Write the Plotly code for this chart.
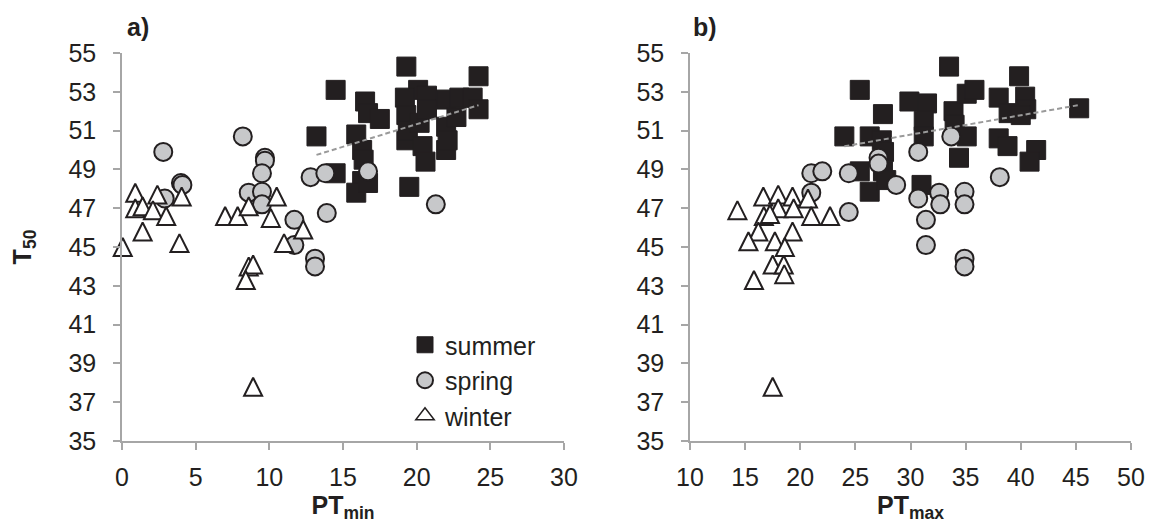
import numpy as np
import plotly.graph_objects as go

# ---- T50 versus minimum photoperiod temperature (panel a) ----
summer_ptmin = [13.2, 14.5, 14.5, 16.5, 16.7, 17.5, 15.9, 16.3, 16.4, 16.3, 15.9, 16.7,
                19.3, 20.1, 20.7, 19.2, 19.3, 19.3, 19.4, 20.2, 20.7, 20.4, 20.6, 22.0,
                22.0, 22.0, 22.9, 23.8, 24.2, 24.2, 22.7, 22.1, 19.5]
summer_t50_a = [50.7, 53.1, 48.8, 52.5, 51.9, 51.6, 50.8, 50.0, 49.5, 48.4, 47.8, 48.3,
                54.3, 53.1, 52.8, 52.7, 51.8, 50.5, 51.0, 51.4, 52.1, 50.2, 49.4, 50.0,
                51.2, 52.6, 52.7, 52.7, 53.8, 52.1, 51.7, 50.5, 48.1]

spring_ptmin = [2.8, 4.0, 4.1, 2.9, 8.2, 9.7, 9.7, 9.5, 8.6, 9.5, 9.5, 11.7, 11.7,
                13.1, 13.1, 12.8, 13.8, 13.9, 16.7, 21.3]
spring_t50_a = [49.9, 48.3, 48.2, 47.5, 50.7, 49.6, 49.45, 48.8, 47.8, 47.85, 47.2, 46.4, 45.1,
                44.4, 44.0, 48.6, 48.8, 46.75, 48.9, 47.2]

winter_ptmin = [0.05, 0.9, 0.9, 1.4, 1.4, 2.4, 2.1, 3.0, 4.05, 3.9, 7.0, 7.85, 8.6,
                10.5, 10.1, 12.3, 11.0, 8.6, 8.9, 8.4, 8.9]
winter_t50_a = [45.0, 47.8, 47.0, 47.1, 45.8, 47.7, 46.9, 46.6, 47.6, 45.2, 46.6, 46.6, 47.1,
                47.6, 46.5, 45.9, 45.2, 44.0, 44.1, 43.3, 37.8]

# ---- T50 versus maximum photoperiod temperature (panel b) ----
summer_ptmax = [25.4, 27.5, 24.0, 26.3, 27.4, 27.5, 25.4, 26.3, 27.8, 27.6, 29.9, 31.5,
                31.2, 31.2, 31.0, 33.5, 33.9, 35.1, 35.8, 34.0, 35.1, 34.4, 38.0, 39.85,
                40.4, 40.5, 38.9, 40.0, 38.0, 38.8, 41.4, 40.8, 45.3]
summer_t50_b = [53.1, 51.85, 50.7, 50.7, 50.5, 48.9, 48.9, 47.85, 48.45, 49.9, 52.5, 52.4,
                51.5, 50.7, 48.2, 54.3, 52.0, 52.9, 53.1, 51.3, 50.7, 49.6, 52.7, 53.8,
                52.75, 52.1, 51.9, 51.8, 50.6, 50.2, 50.0, 49.4, 52.15]

spring_ptmax = [21.0, 22.0, 21.0, 24.4, 24.4, 27.1, 27.1, 28.7, 30.7, 33.7, 30.7, 32.6,
                32.7, 34.9, 34.9, 38.1, 31.4, 31.4, 34.9, 34.9]
spring_t50_b = [48.8, 48.9, 47.8, 48.8, 46.8, 49.6, 49.3, 48.2, 49.9, 50.7, 47.5, 47.8,
                47.2, 47.85, 47.2, 48.6, 46.4, 45.1, 44.4, 44.0]

winter_ptmax = [14.3, 16.65, 18.0, 19.3, 20.7, 16.7, 18.0, 17.25, 19.4, 21.0, 22.7, 16.2,
                19.3, 15.3, 17.7, 18.6, 17.5, 18.5, 18.55, 15.8, 17.5]
winter_t50_b = [46.9, 47.6, 47.7, 47.6, 47.5, 46.6, 47.0, 46.7, 47.0, 46.6, 46.6, 45.8,
                45.8, 45.3, 45.3, 45.0, 44.1, 44.1, 43.6, 43.3, 37.8]

y_ticks = list(range(35, 56, 2))
xa_ticks = list(range(0, 31, 5))
xb_ticks = list(range(10, 51, 5))

INK = "#231f20"
AXIS = "#a6a6a6"
FONT = "Liberation Sans, Arial, sans-serif"

summer_marker = dict(symbol="square", size=19, color=INK, line=dict(color=INK, width=1))
spring_marker = dict(symbol="circle", size=18, color="#c7c8ca", line=dict(color=INK, width=2))
# upright triangle centred on the point (arrow shape turned over and pulled back by half its size)
winter_marker = dict(symbol="arrow-down", angle=180, standoff=9, size=18, color="white",
                     line=dict(color=INK, width=2))
# plain triangle used for the legend key
winter_key = dict(symbol="triangle-up", size=16, color="white", line=dict(color=INK, width=1.5))

fig = go.Figure()


def add_panel(series, xaxis, yaxis, legend):
    (sx, sy), (px, py), (wx, wy) = series
    fig.add_trace(go.Scatter(x=sx, y=sy, mode="markers", name="summer", marker=summer_marker,
                             xaxis=xaxis, yaxis=yaxis, showlegend=legend, cliponaxis=False,
                             legendrank=1))
    fig.add_trace(go.Scatter(x=px, y=py, mode="markers", name="spring", marker=spring_marker,
                             xaxis=xaxis, yaxis=yaxis, showlegend=legend, cliponaxis=False,
                             legendrank=2))
    fig.add_trace(go.Scatter(x=wx, y=wy, mode="markers", name="winter", marker=winter_marker,
                             xaxis=xaxis, yaxis=yaxis, showlegend=False, cliponaxis=False,
                             legendgroup="winter"))
    # linear trend of the summer series over its own range
    k, b = np.polyfit(sx, sy, 1)
    tx = np.array([min(sx), max(sx)])
    fig.add_trace(go.Scatter(x=tx, y=k * tx + b, mode="lines", showlegend=False,
                             line=dict(color="#9a9a9a", width=2, dash="5px,3px"),
                             xaxis=xaxis, yaxis=yaxis, hoverinfo="skip"))


add_panel([(summer_ptmin, summer_t50_a), (spring_ptmin, spring_t50_a),
           (winter_ptmin, winter_t50_a)], "x", "y", True)
add_panel([(summer_ptmax, summer_t50_b), (spring_ptmax, spring_t50_b),
           (winter_ptmax, winter_t50_b)], "x2", "y2", False)

# legend key for the winter series
fig.add_trace(go.Scatter(x=[None], y=[None], mode="markers", name="winter", marker=winter_key,
                         legendgroup="winter", legendrank=3, showlegend=True))

axis_common = dict(showline=True, linecolor=AXIS, linewidth=1.5, ticks="outside",
                   ticklen=7, tickcolor=AXIS, tickwidth=1.5, showgrid=False, zeroline=False,
                   automargin=False,
                   tickfont=dict(size=25, color=INK, family=FONT))

fig.update_layout(
    width=1160, height=524,
    margin=dict(l=0, r=0, t=53, b=83, autoexpand=False),
    paper_bgcolor="white", plot_bgcolor="white",
    font=dict(family=FONT, color=INK, size=25),
    xaxis=dict(domain=[122 / 1160, 564 / 1160], range=[0, 30], tickvals=xa_ticks,
               ticklabelstandoff=6,
               title=dict(text="<b>PT<sub>min</sub></b>", standoff=4,
                          font=dict(size=25, color=INK)), **axis_common),
    yaxis=dict(domain=[0, 1], range=[35, 55], tickvals=y_ticks, ticklabelstandoff=12,
               title=dict(text="<b>T<sub>50</sub></b>", standoff=30,
                          font=dict(size=25, color=INK)), **axis_common),
    xaxis2=dict(domain=[690 / 1160, 1131 / 1160], range=[10, 50], tickvals=xb_ticks,
                anchor="y2", ticklabelstandoff=6,
                title=dict(text="<b>PT<sub>max</sub></b>", standoff=4,
                           font=dict(size=25, color=INK)), **axis_common),
    yaxis2=dict(domain=[0, 1], range=[35, 55], tickvals=y_ticks, anchor="x2",
                ticklabelstandoff=12, **axis_common),
    legend=dict(x=405 / 1160, y=(441 - 322) / 388,
                xanchor="left", yanchor="top", bgcolor="rgba(0,0,0,0)",
                font=dict(size=25, color=INK, family=FONT), tracegroupgap=0),
    showlegend=True,
    annotations=[
        dict(text="<b>a)</b>", x=138 / 1160, y=(441 - 27) / 388, xref="paper", yref="paper",
             showarrow=False, font=dict(size=25, color=INK), xanchor="center", yanchor="middle"),
        dict(text="<b>b)</b>", x=705 / 1160, y=(441 - 27) / 388, xref="paper", yref="paper",
             showarrow=False, font=dict(size=25, color=INK), xanchor="center", yanchor="middle"),
    ],
)

fig.write_html("out.html")
